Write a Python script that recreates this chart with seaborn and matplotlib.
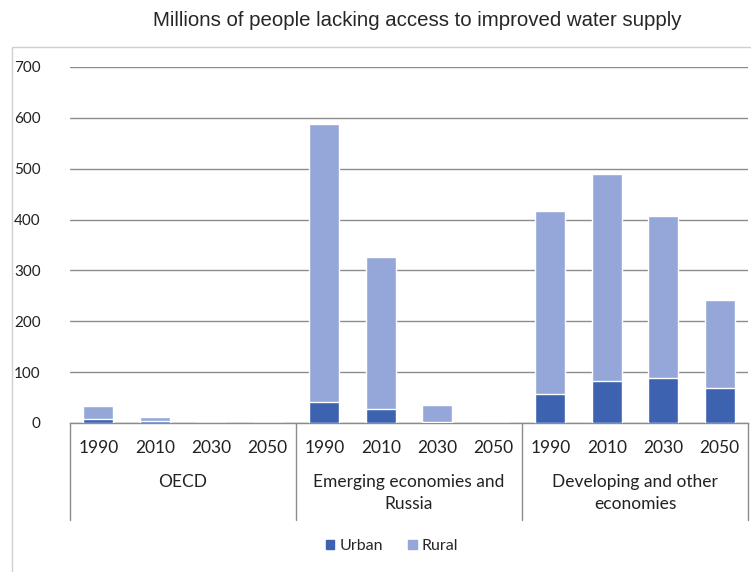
import matplotlib
matplotlib.use("Agg")
import matplotlib.pyplot as plt
import seaborn as sns
import pandas as pd
from matplotlib.patches import Rectangle, Patch

groups = ["OECD", "Emerging economies and\nRussia", "Developing and other\neconomies"]
years = ["1990", "2010", "2030", "2050"]
urban = [8, 4, 0, 0, 41, 27, 2, 0, 57, 82, 88, 69]
rural = [25, 8, 0, 0, 547, 299, 33, 0, 359, 408, 320, 173]

urban_color = "#3d62b0"
rural_color = "#94a7d8"

rows = []
for gi, g in enumerate(groups):
    for yi, y in enumerate(years):
        k = gi * 4 + yi
        rows.append({"pos": k, "year": y, "urban": urban[k], "total": urban[k] + rural[k]})
df = pd.DataFrame(rows)

sns.set_theme(style="white")
plt.rcParams["font.family"] = ["Lato", "DejaVu Sans"]

fig = plt.figure(figsize=(7.51, 5.72), dpi=100)
ax = fig.add_axes([70/751, 1-423/572, (748-70)/751, (423-67)/572])

order = list(range(12))
sns.barplot(data=df, x="pos", y="total", order=order, color=rural_color, width=0.53,
            saturation=1, ax=ax, zorder=3)
sns.barplot(data=df, x="pos", y="urban", order=order, color=urban_color, width=0.53,
            saturation=1, ax=ax, zorder=4)

ax.set_xlim(-0.5, 11.5)
ax.set_ylim(0, 700)
ax.set_yticks(range(0, 701, 100))
ax.yaxis.grid(True, color="#8c8c8c", linewidth=1, zorder=0)
ax.set_axisbelow(True)
for s in ["left", "right", "top"]:
    ax.spines[s].set_visible(False)
ax.spines["bottom"].set_color("#8c8c8c")
ax.spines["bottom"].set_linewidth(1)
ax.set_xticks(order)
ax.set_xticklabels(years * 3, fontsize=12.5, color="#222222")
ax.tick_params(axis="x", length=0, pad=12)
ax.tick_params(axis="y", length=0, pad=21, labelsize=11, labelcolor="#222222")
ax.set_xlabel("")
ax.set_ylabel("")

for xb in [-0.5, 3.5, 7.5, 11.5]:
    ax.plot([xb, xb], [0, -0.272], transform=ax.get_xaxis_transform(), color="#8c8c8c",
            lw=1, clip_on=False)
for gi, g in enumerate(groups):
    ax.text(gi * 4 + 1.5, -0.143, g, transform=ax.get_xaxis_transform(), ha="center",
            va="top", fontsize=12.5, color="#222222", linespacing=1.5)

handles = [Patch(color=urban_color, label="Urban"), Patch(color=rural_color, label="Rural")]
fig.legend(handles=handles, loc="center", bbox_to_anchor=(392/751, 1-546/572), ncol=2,
           frameon=False, fontsize=11.5, handlelength=0.55, handleheight=0.55,
           handletextpad=0.3, columnspacing=1.6)

fig.text(417/751, 1-20/572, "Millions of people lacking access to improved water supply",
         ha="center", va="center", fontsize=14.7, family=["Liberation Sans", "DejaVu Sans"])

fig.patches.append(Rectangle((12/751, -0.01), 1.0, 1-47/572 + 0.01, transform=fig.transFigure,
                             fill=False, edgecolor="#d0d0d0", lw=1))

fig.savefig("out.png", dpi=100)
